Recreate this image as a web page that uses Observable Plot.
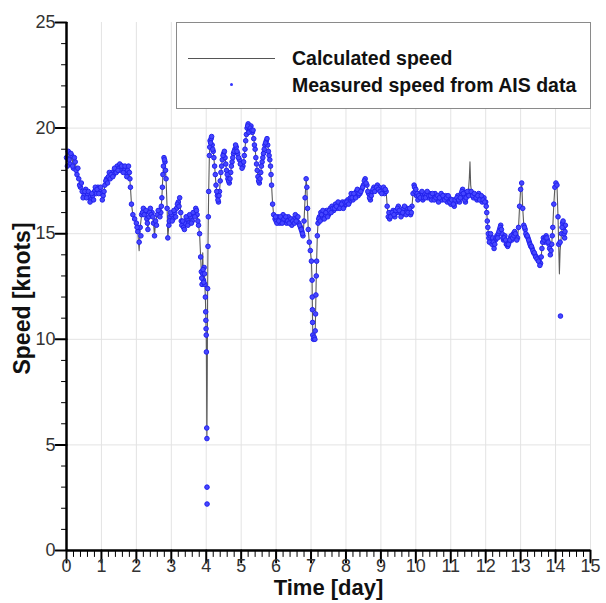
<!DOCTYPE html>
<html>
<head>
<meta charset="utf-8">
<script src="https://cdn.jsdelivr.net/npm/d3@7"></script>
<script src="https://cdn.jsdelivr.net/npm/@observablehq/plot@0.6"></script>
<style>
  html, body { margin: 0; padding: 0; background: #fff; }
  #wrap { position: relative; width: 606px; height: 603px; font-family: "Liberation Sans", Arial, sans-serif; }
  #wrap svg { position: absolute; left: 0; top: 0; }
  .lg-box { position: absolute; left: 176px; top: 22px; width: 413px; height: 85px; border: 1px solid #8a8a8a; background: #fff; }
  .lg-line { position: absolute; left: 188px; top: 58px; width: 87px; height: 0; border-top: 1.3px solid #555; }
  .lg-dot { position: absolute; left: 230px; top: 83px; width: 3px; height: 3px; border-radius: 50%; background: #3535ff; }
  .lg-text { position: absolute; left: 292px; font-weight: bold; font-size: 19.5px; line-height: 22px; color: #111; white-space: nowrap; }
</style>
</head>
<body>
<div id="wrap"></div>
<script>
// ---- data (time in days, speed in knots) ----
const dayTime = [
  0,0.05,0.1,0.15,0.2,0.25,0.3,0.35,0.4,0.45,0.5,0.55,0.6,0.65,0.7,0.75,0.8,0.85,0.9,0.95,
  1,1.05,1.1,1.15,1.2,1.25,1.3,1.35,1.4,1.45,1.5,1.55,1.6,1.65,1.7,1.75,1.8,1.83,1.86,1.9,1.95,
  2,2.04,2.08,2.11,2.15,2.2,2.25,2.3,2.33,2.36,2.4,2.45,2.49,2.52,2.55,2.6,2.65,2.7,2.73,2.76,2.79,2.82,2.85,2.88,2.9,2.93,2.96,
  3,3.05,3.1,3.15,3.2,3.24,3.27,3.3,3.35,3.4,3.45,3.5,3.55,3.6,3.65,3.7,3.74,3.78,3.81,3.84,3.86,3.88,3.9,3.92,3.94,3.96,3.975,3.985,3.99,3.995,
  4,4.005,4.01,4.015,4.02,4.022,4.024,4.03,4.04,4.05,4.06,4.07,4.09,4.11,4.14,4.17,4.2,4.24,4.28,4.32,4.35,4.38,4.42,4.46,4.5,4.54,4.58,4.62,4.66,4.7,4.74,4.78,4.82,4.86,4.9,4.95,
  5,5.05,5.09,5.13,5.17,5.2,5.24,5.28,5.32,5.36,5.4,5.44,5.48,5.52,5.56,5.6,5.64,5.68,5.72,5.76,5.8,5.84,5.87,5.9,5.93,5.97,
  6,6.05,6.1,6.15,6.2,6.25,6.3,6.35,6.4,6.45,6.5,6.55,6.6,6.65,6.7,6.74,6.77,6.8,6.83,6.86,6.88,6.9,6.92,6.95,6.98,
  7.01,7.03,7.035,7.04,7.045,7.05,7.07,7.09,7.11,7.12,7.13,7.14,7.15,7.16,7.18,7.2,7.24,7.28,7.32,7.36,7.4,7.45,7.5,7.55,7.6,7.65,7.7,7.75,7.8,7.85,7.9,7.95,
  8,8.05,8.1,8.15,8.2,8.25,8.3,8.35,8.4,8.45,8.5,8.55,8.6,8.65,8.7,8.75,8.8,8.85,8.9,8.95,
  9,9.05,9.1,9.15,9.18,9.21,9.25,9.3,9.35,9.4,9.45,9.5,9.55,9.6,9.65,9.7,9.75,9.8,9.85,9.89,9.92,9.95,9.98,
  10.02,10.06,10.1,10.15,10.2,10.25,10.3,10.35,10.4,10.45,10.5,10.55,10.6,10.65,10.7,10.75,10.8,10.85,10.9,10.95,
  11,11.05,11.1,11.15,11.2,11.25,11.3,11.34,11.38,11.42,11.46,11.5,11.53,11.55,11.57,11.6,11.65,11.7,11.75,11.8,11.85,11.9,11.95,
  12,12.03,12.06,12.09,12.12,12.16,12.2,12.24,12.28,12.32,12.36,12.4,12.43,12.47,12.51,12.55,12.59,12.63,12.67,12.71,12.75,12.79,12.83,12.87,12.91,12.94,12.97,
  13,13.03,13.06,13.09,13.13,13.17,13.21,13.25,13.29,13.33,13.37,13.41,13.45,13.49,13.53,13.57,13.61,13.65,13.69,13.73,13.77,13.81,13.85,13.89,13.92,13.95,13.98,
  14.01,14.04,14.07,14.09,14.11,14.13,14.14,14.17,14.2,14.23,14.26,14.28
];
// Measured speed from AIS data at dayTime (null = no AIS sample)
const aisSpeed = [
  18.6,18.9,18.3,18.7,18.1,18.4,17.8,17.6,17.2,17.0,16.8,17.1,16.9,16.7,16.6,16.8,17.0,16.9,17.2,17.0,
  16.9,16.8,17.3,17.6,17.7,17.6,17.9,17.8,18.0,18.2,18.1,18.0,18.2,18.0,17.9,18.0,17.9,17.2,16.4,15.9,15.7,
  15.5,15.1,14.6,15.3,15.9,16.2,16.0,15.7,15.2,15.8,16.2,16.0,15.5,14.9,15.6,15.9,16.1,16.0,16.7,17.8,18.6,18.4,17.6,16.2,14.8,15.4,15.8,
  15.9,15.7,16.0,16.2,16.5,16.7,16.0,15.4,15.3,15.5,15.7,15.5,15.8,15.6,15.9,16.2,15.9,15.4,15.0,13.9,13.2,12.6,13.1,12.8,13.4,12.6,12.0,11.3,10.9,10.5,
  10.2,9.4,null,5.8,5.3,3.0,2.2,null,12.4,14.4,15.8,17.0,18.7,19.4,19.5,19.2,18.9,18.2,17.3,16.8,16.5,17.0,17.9,18.5,18.8,18.6,18.0,17.6,17.4,17.9,18.4,18.8,19.0,19.1,18.8,18.5,
  18.3,18.2,18.7,19.4,20.0,20.2,19.9,20.1,19.8,19.5,19.0,18.3,17.7,17.4,17.9,18.4,18.8,19.2,19.4,19.2,18.7,18.2,17.3,16.4,15.9,15.7,
  15.6,15.8,15.5,15.7,15.9,15.6,15.5,15.8,15.6,15.4,15.7,15.9,15.6,15.5,15.3,15.1,14.9,15.6,16.7,17.6,17.2,16.2,15.2,14.6,14.2,
  13.7,12.8,12.0,11.4,10.8,10.2,10.0,10.1,10.0,10.4,11.2,12.1,13.0,13.7,14.9,15.5,15.8,16.0,15.7,16.0,15.8,16.1,15.9,16.2,16.3,16.1,16.4,16.2,16.4,16.3,16.5,16.3,
  16.4,16.6,16.5,16.9,16.6,16.8,17.0,16.8,16.9,17.1,17.3,17.6,17.3,16.9,16.6,17.0,17.2,17.1,17.3,17.2,
  17.0,17.1,16.9,17.0,16.3,15.8,15.7,15.9,16.1,15.8,16.0,16.3,16.0,15.9,16.2,16.0,16.2,16.1,15.9,16.3,16.9,17.3,17.0,
  16.8,16.6,16.9,16.8,16.6,16.9,16.8,16.7,16.9,16.6,16.8,16.9,16.7,16.5,16.8,16.6,16.7,16.8,16.5,16.7,
  16.4,16.6,16.3,16.5,16.8,16.5,16.9,17.1,16.7,16.5,16.8,16.9,17.0,null,16.9,16.9,16.7,16.8,16.6,16.9,16.7,16.5,16.7,
  16.5,16.0,15.3,14.8,14.9,14.6,14.8,14.3,14.7,14.9,15.0,15.2,15.4,15.0,14.7,14.9,14.5,14.4,14.6,14.8,14.7,15.0,15.1,14.9,14.8,15.3,16.3,
  17.1,17.4,16.2,15.4,15.2,14.9,14.8,14.6,14.4,14.3,14.1,14.0,13.9,13.8,13.7,13.6,14.3,14.8,14.6,14.9,14.7,14.5,14.0,14.5,15.3,16.4,17.2,
  17.4,17.3,15.8,14.5,null,14.6,11.1,15.0,15.5,15.3,14.8,15.4
];
// Calculated speed at dayTime (null = no calculated value at that time)
const calcSpeed = [
  18.6,18.9,18.3,18.7,18.1,18.4,17.8,17.6,17.2,17.0,16.8,17.1,16.9,16.7,16.6,16.8,17.0,16.9,17.2,17.0,
  16.9,16.8,17.3,17.6,17.7,17.6,17.9,17.8,18.0,18.2,18.1,18.0,18.2,18.0,17.9,18.0,17.9,17.2,16.4,15.9,15.7,
  15.5,15.1,14.2,15.3,15.9,16.2,16.0,15.7,15.2,15.8,16.2,16.0,15.5,14.9,15.6,15.9,16.1,16.0,16.7,17.8,18.6,18.4,17.6,16.2,14.8,15.4,15.8,
  15.9,15.7,16.0,16.2,16.5,16.7,16.0,15.4,15.3,15.5,15.7,15.5,15.8,15.6,15.9,16.2,15.9,15.4,15.0,13.9,13.2,12.6,14.1,12.8,13.4,12.6,12.0,11.3,10.9,10.5,
  10.2,9.4,7.6,5.8,5.3,null,null,8.5,12.4,14.4,15.8,17.0,18.7,19.4,19.5,19.2,18.9,18.2,17.3,16.8,16.5,17.0,17.9,18.5,18.8,18.6,18.0,17.6,17.4,17.9,18.4,18.8,19.0,19.1,18.8,18.5,
  18.3,18.2,18.7,19.4,20.0,20.2,19.9,20.1,19.8,19.5,19.0,18.3,17.7,17.4,17.9,18.4,18.8,19.2,19.4,19.2,18.7,18.2,17.3,16.4,15.9,15.7,
  15.6,15.8,15.5,15.7,15.9,15.6,15.5,15.8,15.6,15.4,15.7,15.9,15.6,15.5,15.3,15.1,14.9,15.6,16.7,17.6,17.2,16.2,15.2,14.6,14.2,
  13.7,12.8,12.0,11.4,10.8,10.2,10.0,10.1,10.0,10.4,11.2,12.1,13.0,13.7,14.9,15.5,15.8,16.0,15.7,16.0,15.8,16.1,15.9,16.2,16.3,16.1,16.4,16.2,16.4,16.3,16.5,16.3,
  16.4,16.6,16.5,16.9,16.6,16.8,17.0,16.8,16.9,17.1,17.3,17.6,17.3,16.9,16.6,17.0,17.2,17.1,17.3,17.2,
  17.0,17.1,16.9,17.0,16.3,15.8,15.7,15.9,16.1,15.8,16.0,16.3,16.0,15.9,16.2,16.0,16.2,16.1,15.9,16.3,16.9,17.3,17.0,
  16.8,16.6,16.9,16.8,16.6,16.9,16.8,16.7,16.9,16.6,16.8,16.9,16.7,16.5,16.8,16.6,16.7,16.8,16.5,16.7,
  16.4,16.6,16.3,16.5,16.8,16.5,16.9,17.1,16.7,16.5,16.8,16.9,17.6,18.4,17.3,16.9,16.7,16.8,16.6,16.9,16.7,16.5,16.7,
  16.5,16.0,15.3,14.8,14.9,14.6,14.8,14.3,14.7,14.9,15.0,15.2,15.4,15.0,14.7,14.9,14.5,14.4,14.6,14.8,14.7,15.0,15.1,14.9,14.8,15.3,16.3,
  17.1,17.4,16.2,15.4,15.2,14.9,14.8,14.6,14.4,14.3,14.1,14.0,13.9,13.8,13.7,13.6,14.3,14.8,14.6,14.9,14.7,14.5,14.0,14.5,15.3,16.4,17.2,
  17.4,17.3,15.8,14.4,13.1,14.2,null,15.0,15.5,15.3,14.8,15.4
];
// Additional AIS samples in between (the measured band is denser than the calculated curve)
const aisExtraTime = [
  0.025,0.075,0.125,0.175,0.225,0.275,0.325,0.375,0.425,0.475,0.525,0.575,0.625,0.675,0.725,0.775,0.825,0.875,0.925,0.975,
  1.025,1.075,1.125,1.175,1.225,1.275,1.325,1.375,1.425,1.475,1.525,1.575,1.625,1.675,1.725,1.775,1.815,
  2.02,2.13,2.175,2.225,2.275,2.315,2.38,2.425,2.47,2.575,2.625,2.675,2.715,2.745,2.775,2.805,2.835,2.945,2.98,
  3.025,3.075,3.125,3.175,3.22,3.285,3.325,3.375,3.425,3.475,3.525,3.575,3.625,3.675,3.72,3.76,3.87,3.91,3.93,3.95,
  4.1,4.125,4.155,4.185,4.22,4.26,4.3,4.335,4.365,4.4,4.44,4.48,4.52,4.56,4.6,4.64,4.68,4.72,4.76,4.8,4.84,4.88,4.925,4.975,
  5.025,5.07,5.11,5.15,5.185,5.22,5.26,5.3,5.34,5.38,5.42,5.46,5.5,5.54,5.58,5.62,5.66,5.7,5.74,5.78,5.82,5.855,
  5.985,6.025,6.075,6.125,6.175,6.225,6.275,6.325,6.375,6.425,6.475,6.525,6.575,6.625,6.675,6.72,6.755,
  7.22,7.26,7.3,7.34,7.38,7.425,7.475,7.525,7.575,7.625,7.675,7.725,7.775,7.825,7.875,7.925,7.975,
  8.025,8.075,8.125,8.175,8.225,8.275,8.325,8.375,8.425,8.475,8.525,8.575,8.625,8.675,8.725,8.775,8.825,8.875,8.925,8.975,
  9.025,9.075,9.125,9.23,9.275,9.325,9.375,9.425,9.475,9.525,9.575,9.625,9.675,9.725,9.775,9.825,9.87,9.965,
  10.0,10.04,10.08,10.125,10.175,10.225,10.275,10.325,10.375,10.425,10.475,10.525,10.575,10.625,10.675,10.725,10.775,10.825,10.875,10.925,10.975,
  11.025,11.075,11.125,11.175,11.225,11.275,11.32,11.36,11.4,11.44,11.48,11.515,11.585,11.625,11.675,11.725,11.775,11.825,11.875,11.925,11.975,
  12.015,12.045,12.075,12.105,12.14,12.18,12.22,12.26,12.3,12.34,12.38,12.415,12.45,12.49,12.53,12.57,12.61,12.65,12.69,12.73,12.77,12.81,12.85,12.89,
  13.11,13.15,13.19,13.23,13.27,13.31,13.35,13.39,13.43,13.47,13.51,13.55,13.59,13.63,13.67,13.71,13.75,13.79,13.83,13.87,13.905,
  14.185,14.215,14.245,14.27
];
const aisExtraSpeed = [
  18.2,18.5,18.8,18.2,18.6,18.0,18.1,17.3,17.4,16.7,17.0,16.7,17.0,16.5,16.9,16.6,17.2,17.1,16.9,17.2,
  16.6,17.0,17.5,17.4,17.9,17.8,17.7,18.1,17.9,18.0,18.3,18.2,17.9,18.2,17.7,18.2,17.6,
  15.3,14.9,16.0,15.9,16.1,15.5,16.0,15.9,15.8,15.4,16.1,15.8,16.3,17.2,18.2,18.5,18.0,15.6,16.0,
  15.6,16.1,15.8,16.4,16.3,15.6,15.6,15.2,15.8,15.4,15.9,15.5,16.0,15.8,16.1,15.6,12.9,13.3,12.7,13.1,
  19.1,19.3,19.6,19.0,18.6,17.8,17.0,16.6,16.8,17.5,18.2,18.7,18.9,18.3,17.8,17.5,17.6,18.2,18.6,18.9,19.2,18.9,18.6,18.3,
  18.1,18.4,19.0,19.7,20.1,19.8,20.0,19.9,19.9,19.2,18.6,18.0,17.5,17.6,18.2,18.6,19.0,19.3,19.5,18.9,18.5,17.8,
  15.8,15.5,15.6,15.8,15.5,15.7,15.8,15.6,15.5,15.7,15.6,15.5,15.6,15.8,15.4,15.2,15.0,
  15.7,15.6,15.9,16.1,15.7,16.0,15.8,16.1,16.0,16.2,16.2,16.3,16.5,16.2,16.4,16.2,16.5,
  16.5,16.4,16.7,16.7,16.9,16.7,17.1,16.9,17.0,17.2,17.5,17.4,17.0,16.7,16.8,17.1,17.0,17.2,17.1,17.0,
  16.9,17.2,17.1,16.0,15.8,16.0,15.9,16.1,16.2,16.1,15.8,16.0,16.3,15.9,16.0,16.2,16.0,17.2,
  17.1,16.9,16.8,16.7,17.0,16.7,16.7,17.0,16.8,16.8,16.9,16.6,16.7,16.8,16.7,16.9,16.8,16.6,16.7,16.8,16.5,
  16.6,16.4,16.6,16.7,16.6,16.7,17.0,16.9,16.6,16.7,17.0,16.8,17.0,16.8,16.9,16.7,16.8,16.6,16.8,16.6,16.5,
  16.3,15.6,15.0,14.6,15.0,14.5,14.6,14.5,14.8,14.8,15.1,15.3,15.2,14.8,14.8,14.7,14.5,14.5,14.7,14.9,14.8,14.9,15.0,14.7,
  15.3,15.0,14.9,14.7,14.5,14.4,14.2,14.1,13.9,13.8,13.7,13.5,13.9,14.6,14.7,14.8,14.8,14.6,14.3,14.2,14.9,
  15.3,15.6,15.0,15.1
];

const xTickLabels = [0,1,2,3,4,5,6,7,8,9,10,11,12,13,14,15];
const yTickLabels = [0,5,10,15,20,25];
const xTitle = "Time [day]";
const yTitle = "Speed [knots]";
const legendLabels = ["Calculated speed", "Measured speed from AIS data"];

// ---- build ----
const rows = dayTime.map((t, i) => ({t, calc: calcSpeed[i], ais: aisSpeed[i]}));
const lineRows = rows.filter(d => d.calc != null);
const dotRows = rows.filter(d => d.ais != null)
  .concat(aisExtraTime.map((t, i) => ({t, ais: aisExtraSpeed[i]})));

const xMinor = d3.range(0, 75).map(i => i / 5).filter(v => !Number.isInteger(v));
const yMinor = d3.range(0, 25).filter(v => v % 5 !== 0);

const tickShape = {draw(context, l) { context.moveTo(0, 0); context.lineTo(0, -l); }};

const plot = Plot.plot({
  width: 606,
  height: 603,
  marginLeft: 66,
  marginRight: 16,
  marginTop: 22,
  marginBottom: 53,
  x: {domain: [0, 15]},
  y: {domain: [0, 25]},
  style: {fontFamily: "'Liberation Sans', Arial, sans-serif", background: "transparent", overflow: "visible"},
  marks: [
    Plot.gridX(xTickLabels.filter(d => d > 0), {stroke: "#e3e3e3", strokeOpacity: 1, strokeWidth: 1}),
    Plot.gridY(yTickLabels.filter(d => d > 0 && d < 25), {stroke: "#e3e3e3", strokeOpacity: 1, strokeWidth: 1}),
    Plot.line(lineRows, {x: "t", y: "calc", stroke: "#5c5c5c", strokeWidth: 1.1}),
    Plot.dot(dotRows, {x: "t", y: "ais", r: 2.3, fill: "#4646ff", stroke: "#2222ee", strokeWidth: 1}),
    Plot.ruleX([0], {stroke: "black", strokeWidth: 2.5}),
    Plot.ruleY([0], {stroke: "black", strokeWidth: 2.5}),
    Plot.vector(xTickLabels, {x: d => d, frameAnchor: "bottom", length: 12, rotate: 180, anchor: "start", shape: tickShape, stroke: "black", strokeWidth: 2}),
    Plot.vector(xMinor, {x: d => d, frameAnchor: "bottom", length: 6, rotate: 180, anchor: "start", shape: tickShape, stroke: "black", strokeWidth: 1}),
    Plot.vector(yTickLabels, {y: d => d, frameAnchor: "left", length: 11, rotate: -90, anchor: "start", shape: tickShape, stroke: "black", strokeWidth: 2}),
    Plot.vector(yMinor, {y: d => d, frameAnchor: "left", length: 5, rotate: -90, anchor: "start", shape: tickShape, stroke: "black", strokeWidth: 1}),
    Plot.axisX(xTickLabels, {tickSize: 0, tickPadding: 9, fontSize: 18, fill: "#333", label: null}),
    Plot.axisY(yTickLabels, {tickSize: 0, tickPadding: 11, fontSize: 18, fill: "#333", label: null}),
    Plot.text([xTitle], {text: d => d, frameAnchor: "bottom", lineAnchor: "middle", textAnchor: "middle", dy: 37, fontSize: 22, fontWeight: "bold", fill: "#111"}),
    Plot.text([yTitle], {text: d => d, frameAnchor: "left", lineAnchor: "middle", textAnchor: "middle", dx: -44, dy: 12, rotate: -90, fontSize: 23, fontWeight: "bold", fill: "#111"})
  ]
});

const wrap = document.getElementById("wrap");
wrap.appendChild(plot);

// legend (HTML overlay)
const box = document.createElement("div"); box.className = "lg-box"; wrap.appendChild(box);
const ln = document.createElement("div"); ln.className = "lg-line"; wrap.appendChild(ln);
const dt = document.createElement("div"); dt.className = "lg-dot"; wrap.appendChild(dt);
const t1 = document.createElement("div"); t1.className = "lg-text"; t1.style.top = "47px"; t1.textContent = legendLabels[0]; wrap.appendChild(t1);
const t2 = document.createElement("div"); t2.className = "lg-text"; t2.style.top = "74px"; t2.textContent = legendLabels[1]; wrap.appendChild(t2);
</script>
</body>
</html>
